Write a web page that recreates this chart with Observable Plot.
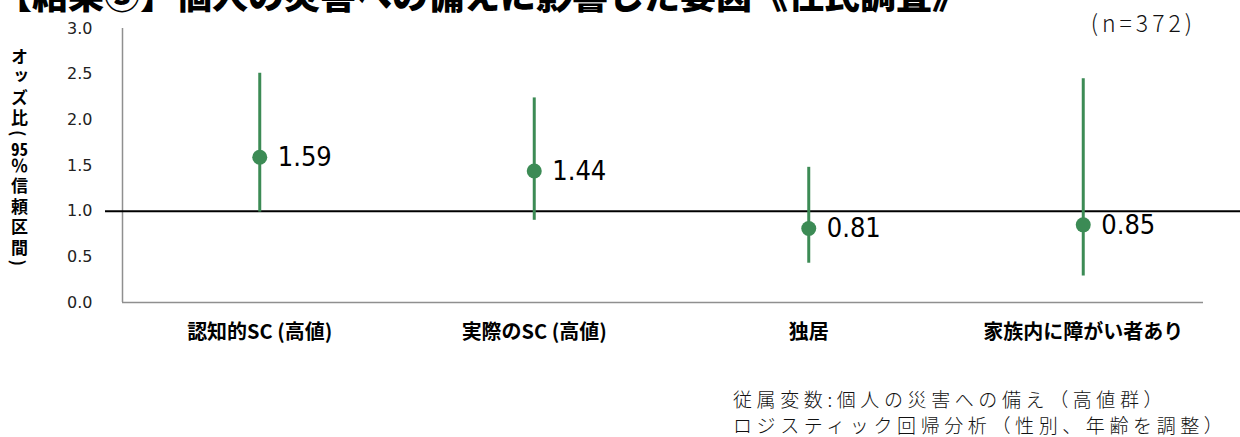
<!DOCTYPE html>
<html>
<head>
<meta charset="utf-8">
<script src="https://cdn.jsdelivr.net/npm/d3@7"></script>
<script src="https://cdn.jsdelivr.net/npm/@observablehq/plot@0.6"></script>
<style>
  html, body { margin: 0; padding: 0; background: #fff; }
  #wrap { position: relative; width: 1240px; height: 437px; overflow: hidden; background: #fff; }
  #chart { position: absolute; left: 0; top: 0; }
  .title { position: absolute; left: -4px; top: -25px; font-family: "Noto Sans CJK JP", sans-serif; font-weight: 900; font-size: 36px; line-height: 36px; white-space: nowrap; color: #000; }
  .n { position: absolute; right: 44px; top: 5px; font-family: "Noto Sans CJK JP", sans-serif; font-weight: 300; font-size: 23px; letter-spacing: 4px; color: #111; }
  .ylab { position: absolute; left: 9px; top: 48px; writing-mode: vertical-rl; font-family: "Noto Sans CJK JP", sans-serif; font-weight: 700; font-size: 17px; letter-spacing: 3.5px; line-height: 20px; color: #000; }
  .ylab .tcy { text-combine-upright: all; }
  .caption { position: absolute; left: 733px; top: 386px; font-family: "Noto Sans CJK JP", sans-serif; font-weight: 300; font-size: 19px; line-height: 26px; letter-spacing: 4.6px; color: #111; white-space: nowrap; }
</style>
</head>
<body>
<div id="wrap">
  <div id="chart"></div>
  <div class="title">【結果③】個人の災害への備えに影響した要因《住民調査》</div>
  <div class="n">(n=372)</div>
  <div class="ylab">オッズ比(<span class="tcy">95</span>％信頼区間)</div>
  <div class="caption">従属変数:個人の災害への備え（高値群）<br>ロジスティック回帰分析（性別、年齢を調整）</div>
</div>
<script>
const categories = ["認知的SC (高値)", "実際のSC (高値)", "独居", "家族内に障がい者あり"];
const oddsRatio = [1.59, 1.44, 0.81, 0.85];
const ciLower = [0.99, 0.90, 0.43, 0.29];
const ciUpper = [2.51, 2.24, 1.48, 2.45];
const yTicks = [0, 0.5, 1, 1.5, 2, 2.5, 3];
const referenceOR = [1];

const rows = categories.map((c, i) => ({
  pos: i + 0.5, name: c, or: oddsRatio[i], lo: ciLower[i], hi: ciUpper[i]
}));

const green = "#3c8b55";

const chart = Plot.plot({
  width: 1240,
  height: 437,
  marginLeft: 122,
  marginRight: 20,
  marginTop: 28,
  marginBottom: 135,
  style: { fontFamily: "'DejaVu Sans', sans-serif", background: "transparent", overflow: "visible" },
  x: { type: "linear", domain: [0, categories.length] },
  y: { domain: [0, 3] },
  marks: [
    Plot.ruleX([0], { stroke: "#8f8f8f", strokeWidth: 1.5 }),
    Plot.ruleY([0], { stroke: "#8f8f8f", strokeWidth: 1.5, insetRight: 17 }),
    Plot.ruleY(referenceOR, { stroke: "#000", strokeWidth: 2, insetLeft: -17, insetRight: -20 }),
    Plot.ruleX(rows, { x: "pos", y1: "lo", y2: "hi", stroke: green, strokeWidth: 3 }),
    Plot.dot(rows, { x: "pos", y: "or", r: 7.5, fill: green, stroke: "none" }),
    Plot.text(rows, {
      x: "pos", y: "or", text: d => d.or.toFixed(2), dx: 18, textAnchor: "start",
      fontSize: 27, fill: "#000", fontFamily: "'DejaVu Sans Condensed', 'DejaVu Sans', sans-serif"
    }),
    Plot.axisY({
      ticks: yTicks, tickFormat: d => d.toFixed(1), tickSize: 0, tickPadding: 30,
      fontSize: 16, label: null, fill: "#222"
    }),
    Plot.axisX({
      ticks: rows.map(d => d.pos), tickFormat: (d) => categories[Math.floor(d)],
      tickSize: 0, tickPadding: 22, fontSize: 20, fontWeight: "bold", label: null,
      fontFamily: "'Noto Sans CJK JP', sans-serif", fill: "#000"
    })
  ]
});
document.getElementById("chart").appendChild(chart);
</script>
</body>
</html>
